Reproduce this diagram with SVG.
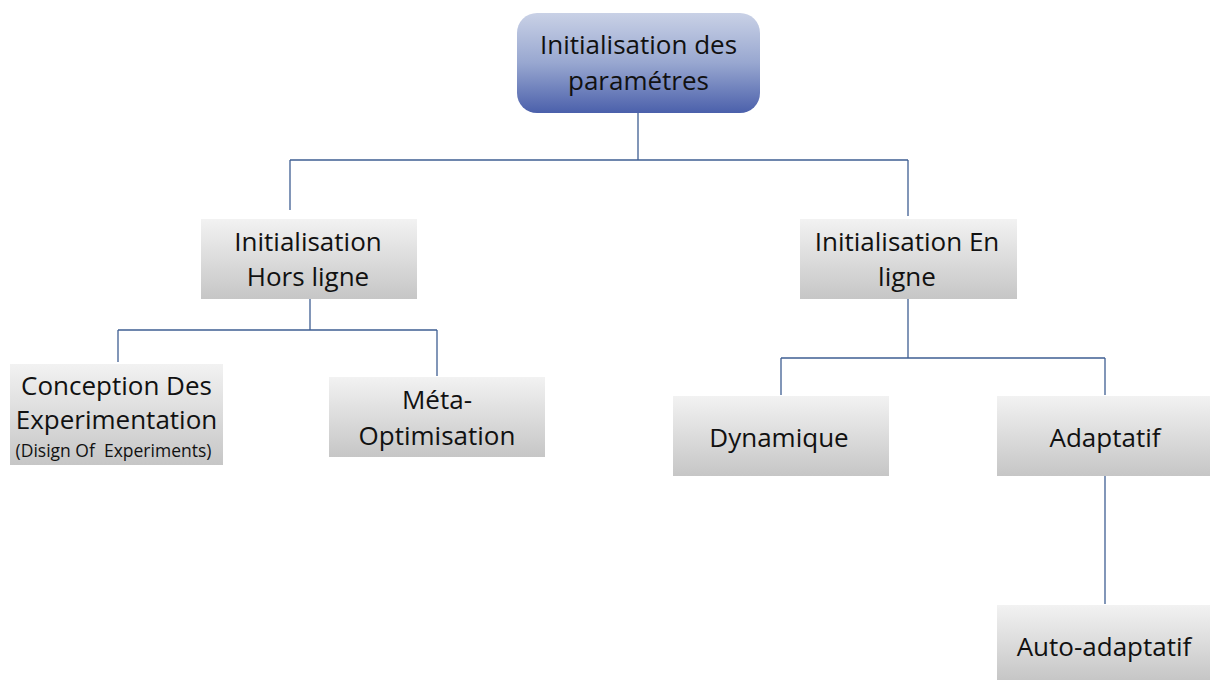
<svg xmlns="http://www.w3.org/2000/svg" width="1210" height="680" viewBox="0 0 1210 680">
  <defs>
    <linearGradient id="blueFill" x1="0" y1="0" x2="0" y2="1">
      <stop offset="0" stop-color="#c9d1e6"/>
      <stop offset="0.5" stop-color="#98a7d0"/>
      <stop offset="1" stop-color="#4b60ab"/>
    </linearGradient>
    <linearGradient id="grayFill" x1="0" y1="0" x2="0" y2="1">
      <stop offset="0" stop-color="#f2f2f2"/>
      <stop offset="1" stop-color="#c6c6c6"/>
    </linearGradient>
  </defs>
  <style>
    .box { fill: url(#grayFill); }
    .root { fill: url(#blueFill); }
    .lbl { font-family: "Open Sans", "Noto Sans", sans-serif; font-size: 26px; fill: #111; text-anchor: middle; }
    .small { font-size: 17.5px; }
    .wire { fill: none; stroke: #3f5f93; stroke-width: 1.3; }
  </style>
  <rect width="1210" height="680" fill="#ffffff"/>

  <g id="connectors">
    <path class="wire" d="M638 113 V160 M290 160 H908 M290 160 V210 M908 160 V216"/>
    <path class="wire" d="M310 299 V330 M118 330 H437 M118 330 V362 M437 330 V376"/>
    <path class="wire" d="M908 299 V358 M781 358 H1105 M781 358 V395 M1105 358 V395"/>
    <path class="wire" d="M1105 476 V604"/>
  </g>

  <g id="node-root">
    <rect class="root" x="517" y="13" width="243" height="100" rx="20"/>
    <text class="lbl" x="638.5" y="54">Initialisation des</text>
    <text class="lbl" x="638.5" y="90">paramétres</text>
  </g>

  <g id="node-hors-ligne">
    <rect class="box" x="201" y="219" width="216" height="80"/>
    <text class="lbl" x="308" y="251">Initialisation</text>
    <text class="lbl" x="308" y="286">Hors ligne</text>
  </g>

  <g id="node-en-ligne">
    <rect class="box" x="800" y="219" width="217" height="80"/>
    <text class="lbl" x="907" y="251">Initialisation En</text>
    <text class="lbl" x="907" y="286">ligne</text>
  </g>

  <g id="node-conception">
    <rect class="box" x="10" y="364" width="213" height="101"/>
    <text class="lbl" x="116.5" y="395">Conception Des</text>
    <text class="lbl" x="116.5" y="429">Experimentation</text>
    <text class="lbl small" x="113.5" y="457" xml:space="preserve">(Disign Of  Experiments)</text>
  </g>

  <g id="node-meta">
    <rect class="box" x="329" y="377" width="216" height="80"/>
    <text class="lbl" x="437" y="409">Méta-</text>
    <text class="lbl" x="437" y="445">Optimisation</text>
  </g>

  <g id="node-dynamique">
    <rect class="box" x="673" y="396" width="216" height="80"/>
    <text class="lbl" x="779" y="447">Dynamique</text>
  </g>

  <g id="node-adaptatif">
    <rect class="box" x="997" y="396" width="213" height="80"/>
    <text class="lbl" x="1105" y="447">Adaptatif</text>
  </g>

  <g id="node-auto-adaptatif">
    <rect class="box" x="997" y="605" width="213" height="75"/>
    <text class="lbl" x="1104" y="656">Auto-adaptatif</text>
  </g>
</svg>
